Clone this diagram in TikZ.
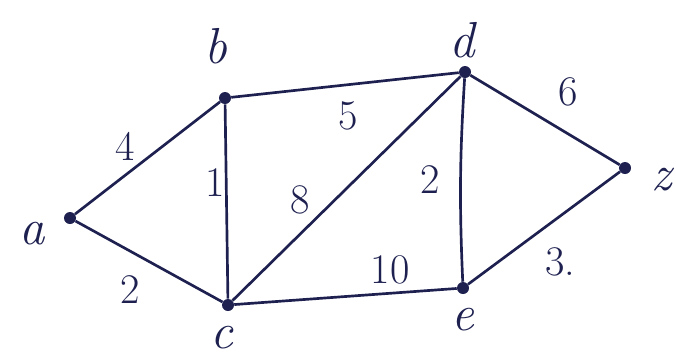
\documentclass[tikz,border=0pt]{standalone}
\usetikzlibrary{positioning}
\definecolor{ink}{HTML}{1E2150}

\begin{document}
\begin{tikzpicture}[
  x=0.025cm,y=-0.025cm,
  vtx/.style={circle,fill=ink,minimum size=3mm,inner sep=0pt},
  vname/.style={text=ink,font=\fontsize{36}{40}\selectfont\itshape},
  wt/.style={text=ink,font=\fontsize{30}{34}\selectfont},
  edge/.style={draw=ink,line width=1.9pt},
]
\useasboundingbox (0,0) rectangle (676,358);

%=============================================================== VERTICES ===
\node[vtx] (a) at (70,218)  {};
\node[vtx] (b) at (225,98)  {};
\node[vtx] (c) at (228,305) {};
\node[vtx] (d) at (465,72)  {};
\node[vtx] (e) at (463,288) {};
\node[vtx] (z) at (625,168) {};

\node[vname] (la) at (32,234)  {a};
\node[vname] (lb) at (216,46)  {b};
\node[vname] (lc) at (222,338) {c};
\node[vname] (ld) at (462,40)  {d};
\node[vname] (le) at (463,320) {e};
\node[vname] (lz) at (662,180) {z};

%================================================================== EDGES ===
\draw[edge] (a) -- (b);
\draw[edge] (a) -- (c);
\draw[edge] (b) -- (c);
\draw[edge] (b) -- (d);
\draw[edge] (c) -- (d);
\draw[edge] (c) -- (e);
\draw[edge] (d) to[bend right=3] (e);
\draw[edge] (d) -- (z);
\draw[edge] (e) -- (z);

%================================================================ WEIGHTS ===
\node[wt] (wab) at (125,146) {4};
\node[wt] (wac) at (130,290) {2};
\node[wt] (wbc) at (215,183) {1};
\node[wt] (wbd) at (348,116) {5};
\node[wt] (wcd) at (300,200) {8};
\node[wt] (wde) at (430,180) {2};
\node[wt] (wce) at (390,270) {10};
\node[wt] (wdz) at (568,92)  {6};
\node[wt] (wez) at (560,262) {3.};

\end{tikzpicture}
\end{document}
